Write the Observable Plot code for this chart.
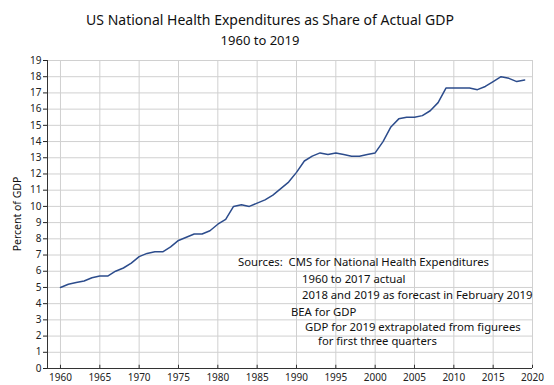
<!DOCTYPE html>
<html>
<head>
<meta charset="utf-8">
<script src="https://cdn.jsdelivr.net/npm/d3@7"></script>
<script src="https://cdn.jsdelivr.net/npm/@observablehq/plot@0.6"></script>
<style>
  html, body { margin: 0; padding: 0; background: #fff; }
  #wrap { position: relative; width: 554px; height: 385px; font-family: "Noto Sans", sans-serif; color: #111; }
  .t { position: absolute; white-space: nowrap; }
  #title { left: 0; width: 540px; top: 10px; text-align: center; font-size: 14px; }
  #sub { left: 0; width: 520px; top: 31px; text-align: center; font-size: 13px; }
  .note { font-size: 11.3px; line-height: 12px; }
  #ylab { top: 214px; font-size: 10.5px; transform: translate(-50%, -50%) rotate(-90deg); transform-origin: center; left: 17px; }
  svg { position: absolute; left: 0; top: 0; }
</style>
</head>
<body>
<div id="wrap">
  <div id="chart"></div>
  <div class="t" id="title">US National Health Expenditures as Share of Actual GDP</div>
  <div class="t" id="sub">1960 to 2019</div>
  <div class="t" id="ylab">Percent of GDP</div>
  <div class="t note" style="left:238px;top:256px">Sources:&nbsp; CMS for National Health Expenditures</div>
  <div class="t note" style="left:302px;top:273px">1960 to 2017 actual</div>
  <div class="t note" style="left:302px;top:289px">2018 and 2019 as forecast in February 2019</div>
  <div class="t note" style="left:291px;top:306px">BEA for GDP</div>
  <div class="t note" style="left:305px;top:321px">GDP for 2019 extrapolated from figurees</div>
  <div class="t note" style="left:318px;top:335px">for first three quarters</div>
</div>
<script>
const years = d3.range(1960, 2020);
const share = [
  5.0, 5.2, 5.3, 5.4, 5.6, 5.7, 5.7, 6.0, 6.2, 6.5,
  6.9, 7.1, 7.2, 7.2, 7.5, 7.9, 8.1, 8.3, 8.3, 8.5,
  8.9, 9.2, 10.0, 10.1, 10.0, 10.2, 10.4, 10.7, 11.1, 11.5,
  12.1, 12.8, 13.1, 13.3, 13.2, 13.3, 13.2, 13.1, 13.1, 13.2,
  13.3, 14.0, 14.9, 15.4, 15.5, 15.5, 15.6, 15.9, 16.4, 17.3,
  17.3, 17.3, 17.3, 17.2, 17.4, 17.7, 18.0, 17.9, 17.7, 17.8
];
const xTicks = d3.range(1960, 2021, 5);
const yTicks = d3.range(0, 20, 1);

const data = years.map((y, i) => ({year: y, value: share[i]}));

const chart = Plot.plot({
  width: 554,
  height: 385,
  marginLeft: 47,
  marginRight: 22,
  marginTop: 60,
  marginBottom: 17,
  style: {fontFamily: "Noto Sans, sans-serif", fontSize: "10px", color: "#222", background: "transparent"},
  x: {domain: [1958.35, 2020]},
  y: {domain: [0, 19]},
  marks: [
    Plot.tickX(xTicks, {x: d => d, stroke: "#d0d0d0", strokeWidth: 1}),
    Plot.tickY(yTicks, {y: d => d, stroke: "#d0d0d0", strokeWidth: 1}),
    Plot.axisX(xTicks, {tickSize: 0, tickPadding: 5, tickFormat: d => String(d), label: null, fontSize: 10}),
    Plot.axisY(yTicks, {tickSize: 4, tickPadding: 2, label: null, fontSize: 10}),
    Plot.ruleX(xTicks, {x: d => d, y1: 0, y2: 0.2, stroke: "#333"}),
    Plot.ruleY([0], {stroke: "#333"}),
    Plot.ruleX([1958.35], {stroke: "#333"}),
    Plot.line(data, {x: "year", y: "value", stroke: "#2c4c8c", strokeWidth: 1.5})
  ]
});
document.getElementById("chart").appendChild(chart);
</script>
</body>
</html>
